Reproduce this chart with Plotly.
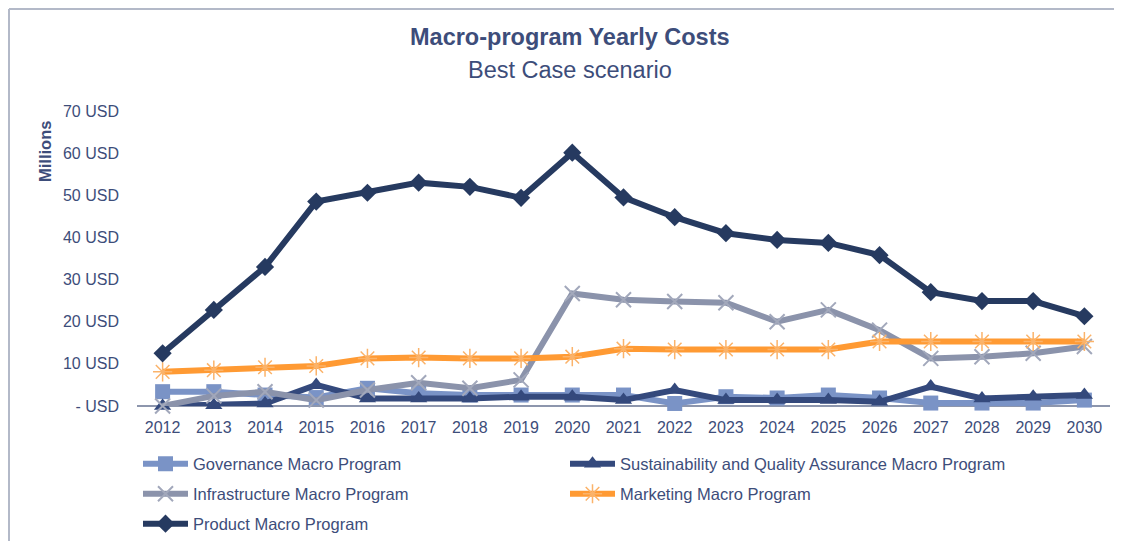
import plotly.graph_objects as go

years = [str(y) for y in range(2012, 2031)]
governance = [3.4, 3.4, 2.6, 2.0, 4.2, 3.0, 2.6, 2.6, 2.6, 2.6, 0.6, 2.2, 1.9, 2.6, 1.9, 0.7, 0.7, 0.7, 1.4]
sustainability = [0.0, 0.2, 0.6, 5.0, 1.8, 1.8, 1.8, 2.2, 2.2, 1.4, 3.8, 1.4, 1.4, 1.4, 1.0, 4.6, 1.8, 2.2, 2.6]
infrastructure = [0.0, 2.4, 3.4, 1.4, 3.8, 5.5, 4.2, 6.2, 26.7, 25.2, 24.8, 24.5, 20.0, 22.8, 18.0, 11.3, 11.7, 12.5, 14.1]
marketing = [8.1, 8.5, 9.2, 9.5, 11.3, 11.5, 11.3, 11.3, 11.7, 13.6, 13.4, 13.4, 13.4, 13.4, 15.3, 15.3, 15.3, 15.3, 15.3]
product = [12.5, 22.8, 33.0, 48.5, 50.6, 53.0, 52.0, 49.4, 60.1, 49.5, 44.8, 41.0, 39.4, 38.7, 35.8, 27.0, 24.9, 24.9, 21.3]

tick_vals = [0, 10, 20, 30, 40, 50, 60, 70]
tick_text = ["- USD", "10 USD", "20 USD", "30 USD", "40 USD", "50 USD", "60 USD", "70 USD"]

FONT = "Liberation Sans, Arial, sans-serif"
TXT = "#3d4d7a"

OFF = 8  # page body margin
W, H = 1122 - OFF, 541 - OFF

# (name, values, line colour, marker, legend id, legend position in page px)
series = [
    ("Governance Macro Program", governance, "#7a93c6",
     dict(symbol="square", size=15, color="#7a93c6"), "legend", (138, 464)),
    ("Sustainability and Quality Assurance Macro Program", sustainability, "#34497c",
     dict(symbol="triangle-up", size=15, color="#34497c"), "legend2", (565, 464)),
    ("Infrastructure Macro Program", infrastructure, "#8b93ab",
     dict(symbol="x-thin", size=15, color="#8b93ab", line=dict(color="#a2a8bb", width=2)), "legend3", (138, 494)),
    ("Marketing Macro Program", marketing, "#ff9a33",
     dict(symbol="asterisk", size=16, color="#fbb36a", line=dict(color="#fbb36a", width=1.5)), "legend4", (565, 494)),
    ("Product Macro Program", product, "#263a60",
     dict(symbol="diamond", size=14, color="#263a60"), "legend5", (138, 524)),
]

fig = go.Figure()
legends = {}
for name, vals, col, mk, lg, (lx, ly) in series:
    fig.add_trace(go.Scatter(
        x=years, y=vals, name=name, mode="lines+markers",
        line=dict(color=col, width=6), marker=mk, cliponaxis=False, legend=lg,
    ))
    legends[lg] = dict(
        orientation="h", xref="container", yref="container",
        x=(lx - OFF) / W, y=1 - (ly - OFF) / H, xanchor="left", yanchor="middle",
        itemwidth=45,
        font=dict(family=FONT, size=16.5, color=TXT),
        bgcolor="rgba(0,0,0,0)",
    )

L, T = 137 - OFF, 111 - OFF
B = H - (406 - OFF)
R = W - (1110 - OFF)
PW = W - L - R
PH = H - T - B


def px_x(x):
    return (x - OFF - L) / PW


def px_y(y):
    return (H - B - (y - OFF)) / PH


fig.update_layout(
    width=W, height=H,
    margin=dict(l=L, r=R, t=T, b=B, autoexpand=False),
    paper_bgcolor="white", plot_bgcolor="white",
    showlegend=True,
    **legends,
    xaxis=dict(
        type="category", range=[-0.5, 18.5], showgrid=False, zeroline=False,
        showline=False, ticks="", ticklabelstandoff=10,
        tickfont=dict(family=FONT, size=16, color=TXT),
    ),
    yaxis=dict(
        range=[0, 70], tickvals=tick_vals, ticktext=tick_text, showgrid=False,
        zeroline=True, zerolinecolor="#8d96ad", zerolinewidth=1.5, showline=False,
        tickfont=dict(family=FONT, size=16, color=TXT),
        ticklabelstandoff=17,
    ),
    annotations=[
        dict(text="<b>Macro-program Yearly Costs</b>", xref="paper", yref="paper",
             x=px_x(570), y=px_y(37), xanchor="center", yanchor="middle", showarrow=False,
             font=dict(family=FONT, size=23.5, color=TXT)),
        dict(text="Best Case scenario", xref="paper", yref="paper",
             x=px_x(570), y=px_y(70), xanchor="center", yanchor="middle", showarrow=False,
             font=dict(family=FONT, size=23.5, color=TXT)),
        dict(text="<b>Millions</b>", xref="paper", yref="paper", textangle=-90,
             x=px_x(45), y=px_y(152), xanchor="center", yanchor="middle",
             showarrow=False, font=dict(family=FONT, size=16.5, color=TXT)),
    ],
    shapes=[
        dict(type="line", xref="paper", yref="paper", x0=px_x(9), x1=px_x(1140),
             y0=px_y(9), y1=px_y(9), line=dict(color="#b3b9c8", width=2)),
        dict(type="line", xref="paper", yref="paper", x0=px_x(9), x1=px_x(9),
             y0=px_y(9), y1=px_y(560), line=dict(color="#b3b9c8", width=2)),
    ],
)

fig.write_html("out.html")
